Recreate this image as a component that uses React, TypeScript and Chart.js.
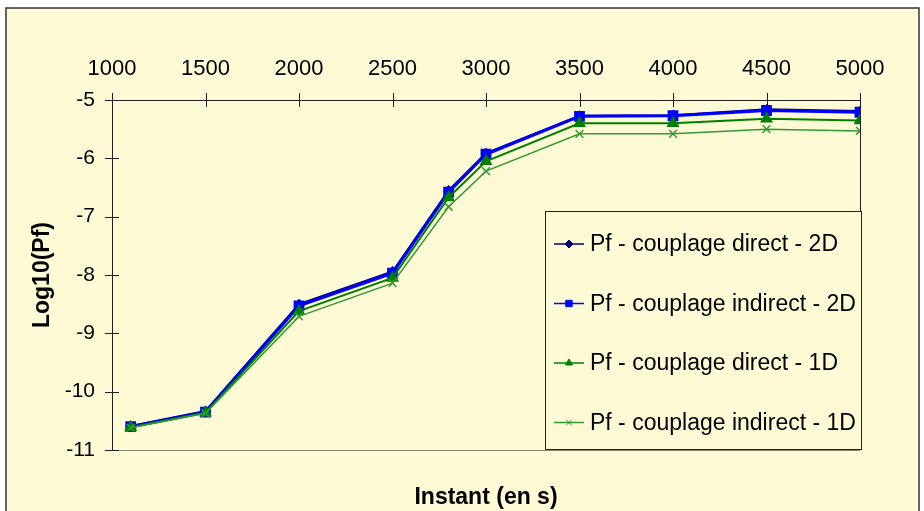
import React, { useEffect, useRef } from "react";
import { Chart, registerables } from "chart.js";
import { drawPoint } from "chart.js/helpers";

Chart.register(...registerables);

const instants = [1100, 1500, 2000, 2500, 2800, 3000, 3500, 4000, 4500, 5000];
const direct2D = [-10.59, -10.33, -8.5, -7.94, -6.55, -5.91, -5.27, -5.26, -5.16, -5.19];
const indirect2D = [-10.6, -10.35, -8.53, -7.97, -6.58, -5.93, -5.28, -5.27, -5.18, -5.21];
const direct1D = [-10.61, -10.36, -8.62, -8.05, -6.67, -6.05, -5.4, -5.4, -5.32, -5.35];
const indirect1D = [-10.62, -10.37, -8.71, -8.14, -6.83, -6.22, -5.58, -5.58, -5.5, -5.53];
const seriesLabels = [
  "Pf - couplage direct - 2D",
  "Pf - couplage indirect - 2D",
  "Pf - couplage direct - 1D",
  "Pf - couplage indirect - 1D",
];
const xTitle = "Instant (en s)";
const yTitle = "Log10(Pf)";

const FONT = "'Liberation Sans', Arial, Helvetica, sans-serif";
const CREAM = "#FFFAD6";

const framePlugin = {
  id: "frame",
  beforeDraw(chart: any) {
    const ctx = chart.ctx;
    ctx.save();
    ctx.fillStyle = "#ffffff";
    ctx.fillRect(0, 0, chart.width, chart.height);
    ctx.fillStyle = CREAM;
    ctx.fillRect(6, 8, 913, 520);
    ctx.strokeStyle = "#333333";
    ctx.lineWidth = 1.5;
    ctx.strokeRect(6, 8, 913, 520);
    ctx.restore();
  },
  beforeDatasetsDraw(chart: any) {
    const ctx = chart.ctx;
    const a = chart.chartArea;
    const xs = chart.scales.x;
    const ys = chart.scales.y;
    ctx.save();
    ctx.lineWidth = 1;
    ctx.strokeStyle = "#8a8570";
    ctx.beginPath();
    ctx.moveTo(a.left, a.bottom + 0.5);
    ctx.lineTo(a.right, a.bottom + 0.5);
    ctx.stroke();
    ctx.strokeStyle = "#222222";
    ctx.beginPath();
    ctx.moveTo(a.left + 0.5, a.bottom);
    ctx.lineTo(a.left + 0.5, a.top + 0.5);
    ctx.lineTo(a.right + 0.5, a.top + 0.5);
    ctx.lineTo(a.right + 0.5, a.bottom);
    ctx.stroke();
    ctx.beginPath();
    xs.ticks.forEach((t: any) => {
      const px = Math.round(xs.getPixelForValue(t.value)) + 0.5;
      ctx.moveTo(px, a.top - 7);
      ctx.lineTo(px, a.top + 7);
    });
    ys.ticks.forEach((t: any) => {
      const py = Math.round(ys.getPixelForValue(t.value)) + 0.5;
      ctx.moveTo(a.left - 7, py);
      ctx.lineTo(a.left + 7, py);
    });
    ctx.stroke();
    ctx.restore();
  },
  afterDatasetsDraw(chart: any) {
    const ctx = chart.ctx;
    const bx = 545, by = 211, bw = 316, bh = 238;
    ctx.save();
    ctx.fillStyle = CREAM;
    ctx.fillRect(bx, by, bw, bh);
    ctx.strokeStyle = "#222222";
    ctx.lineWidth = 1;
    ctx.strokeRect(bx + 0.5, by + 0.5, bw, bh);
    chart.data.datasets.forEach((ds: any, i: number) => {
      const cy = 244 + i * 59.5;
      ctx.strokeStyle = ds.borderColor;
      ctx.lineWidth = 1.5;
      ctx.beginPath();
      ctx.moveTo(554, cy);
      ctx.lineTo(584, cy);
      ctx.stroke();
      ctx.fillStyle = ds.pointBackgroundColor;
      ctx.strokeStyle = ds.pointBorderColor;
      ctx.lineWidth = 1;
      drawPoint(ctx, { pointStyle: ds.pointStyle, radius: ds.legendRadius, rotation: 0, borderWidth: 1 }, 569, cy);
      ctx.fillStyle = "#000000";
      ctx.font = `23px ${FONT}`;
      ctx.textBaseline = "middle";
      ctx.textAlign = "left";
      ctx.fillText(ds.label, 590, cy + 1);
    });
    ctx.restore();
  },
};

export default function App() {
  const ref = useRef<HTMLCanvasElement>(null);
  useEffect(() => {
    if (!ref.current) return;
    const mk = (vals: number[]) => vals.map((v, i) => ({ x: instants[i], y: v }));
    const chart = new Chart(ref.current, {
      type: "line",
      data: {
        datasets: [
          {
            label: seriesLabels[0],
            data: mk(direct2D),
            borderColor: "#000080",
            backgroundColor: "#000080",
            pointBackgroundColor: "#000080",
            pointBorderColor: "#000080",
            borderWidth: 2,
            pointStyle: "rectRot",
            pointRadius: 4,
            legendRadius: 4,
            order: 4,
          } as any,
          {
            label: seriesLabels[1],
            data: mk(indirect2D),
            borderColor: "#0000FF",
            backgroundColor: "#0000FF",
            pointBackgroundColor: "#0000FF",
            pointBorderColor: "#0000FF",
            borderWidth: 3,
            pointStyle: "rect",
            pointRadius: 5.5,
            legendRadius: 4.5,
            order: 3,
          } as any,
          {
            label: seriesLabels[2],
            data: mk(direct1D),
            borderColor: "#008000",
            backgroundColor: "#008000",
            pointBackgroundColor: "#008000",
            pointBorderColor: "#008000",
            borderWidth: 2,
            pointStyle: "triangle",
            pointRadius: 5.5,
            legendRadius: 4,
            order: 2,
          } as any,
          {
            label: seriesLabels[3],
            data: mk(indirect1D),
            borderColor: "#339933",
            backgroundColor: "#339933",
            pointBackgroundColor: "#339933",
            pointBorderColor: "#339933",
            borderWidth: 1.5,
            pointStyle: "crossRot",
            pointRadius: 5.5,
            pointBorderWidth: 1.5,
            legendRadius: 4,
            order: 1,
          } as any,
        ],
      },
      options: {
        animation: false,
        responsive: false,
        devicePixelRatio: 1,
        layout: { padding: { left: 0, top: 0, right: 64, bottom: 0 } },
        plugins: { legend: { display: false }, tooltip: { enabled: false } },
        elements: { line: { tension: 0 } },
        scales: {
          x: {
            type: "linear",
            position: "top",
            min: 1000,
            max: 5000,
            grid: { display: false, drawTicks: false },
            border: { display: false },
            ticks: {
              stepSize: 500,
              color: "#000000",
              padding: 18,
              font: { family: FONT, size: 22 },
              maxRotation: 0,
              callback: (v: any) => String(v),
            },
            afterFit: (s: any) => {
              s.height = 100;
            },
          },
          x2: {
            type: "linear",
            position: "bottom",
            min: 1000,
            max: 5000,
            grid: { display: false, drawTicks: false },
            border: { display: false },
            ticks: { display: false },
            title: {
              display: true,
              text: xTitle,
              color: "#000000",
              font: { family: FONT, size: 23, weight: "bold" },
              padding: { top: 0, bottom: 0 },
            },
            afterFit: (s: any) => {
              s.height = 61;
            },
          },
          y: {
            type: "linear",
            min: -11,
            max: -5,
            grid: { display: false, drawTicks: false },
            border: { display: false },
            ticks: {
              stepSize: 1,
              color: "#000000",
              padding: 17,
              font: { family: FONT, size: 21 },
              callback: (v: any) => String(v),
            },
            title: {
              display: true,
              text: yTitle,
              color: "#000000",
              font: { family: FONT, size: 23, weight: "bold" },
              padding: { top: 29, bottom: 0 },
            },
            afterFit: (s: any) => {
              s.width = 112;
            },
          },
        },
      } as any,
      plugins: [framePlugin],
    });
    return () => chart.destroy();
  }, []);
  return (
    <div style={{ position: "absolute", left: 0, top: 0, width: 924, height: 511 }}>
      <canvas ref={ref} width={924} height={511} style={{ display: "block", width: 924, height: 511 }} />
    </div>
  );
}
